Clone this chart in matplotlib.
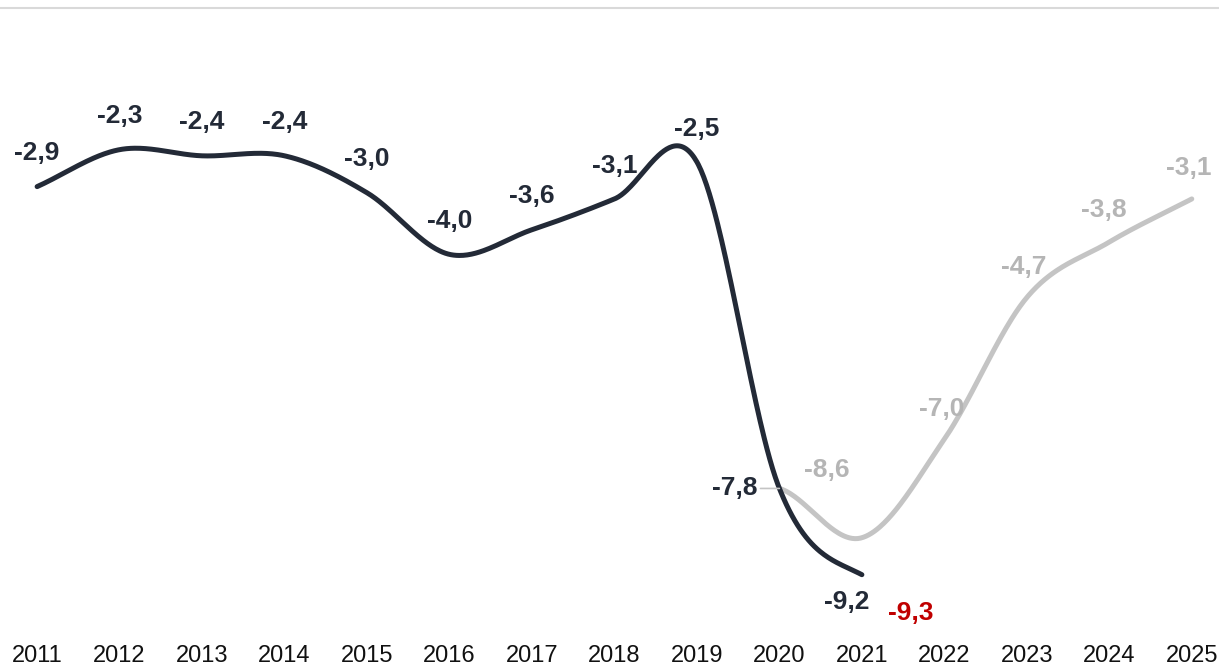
import numpy as np
import matplotlib
matplotlib.use("Agg")
import matplotlib.pyplot as plt

plt.rcParams['font.family'] = ['Liberation Sans', 'DejaVu Sans']

years = list(range(2011, 2026))
actual_years = [2011, 2012, 2013, 2014, 2015, 2016, 2017, 2018, 2019, 2020, 2021]
actual_vals = [-2.9, -2.3, -2.4, -2.4, -3.0, -4.0, -3.6, -3.1, -2.5, -7.8, -9.2]
fc_years = [2020, 2021, 2022, 2023, 2024, 2025]
fc_vals = [-7.8, -8.6, -7.0, -4.7, -3.8, -3.1]
red_year = 2021
red_val = -9.3

DARK = '#232a37'
GREY_LINE = '#c4c4c4'
GREY_TXT = '#b5b5b5'
RED = '#c00000'


def catmull(xs, ys, k0=1.0, k1=1.0, n=60):
    xs = np.asarray(xs, float); ys = np.asarray(ys, float)
    m = np.zeros_like(ys)
    m[1:-1] = (ys[2:] - ys[:-2]) / (xs[2:] - xs[:-2])
    m[0] = k0 * (ys[1] - ys[0]) / (xs[1] - xs[0])
    m[-1] = k1 * (ys[-1] - ys[-2]) / (xs[-1] - xs[-2])
    ox, oy = [], []
    for i in range(len(xs) - 1):
        h = xs[i + 1] - xs[i]
        t = np.linspace(0, 1, n, endpoint=(i == len(xs) - 2))
        h00 = 2 * t**3 - 3 * t**2 + 1
        h10 = t**3 - 2 * t**2 + t
        h01 = -2 * t**3 + 3 * t**2
        h11 = t**3 - t**2
        ox.append(xs[i] + t * h)
        oy.append(h00 * ys[i] + h10 * h * m[i] + h01 * ys[i + 1] + h11 * h * m[i + 1])
    return np.concatenate(ox), np.concatenate(oy)


fig = plt.figure(figsize=(12.19, 6.65), dpi=100)
ax = fig.add_axes([0, 0.0617, 1, 0.9263])
ax.set_xlim(2010.55, 2025.33)
ax.set_ylim(-10, 0)

gx, gy = catmull(fc_years, fc_vals, k0=0.5, k1=1.0)
ax.plot(gx, gy, color=GREY_LINE, lw=3.6, solid_capstyle='round', zorder=2)
dx, dy = catmull(actual_years, actual_vals, k0=1.0, k1=0.5)
ax.plot(dx, dy, color=DARK, lw=3.6, solid_capstyle='round', zorder=3)

def lab(x, y, txt, off, color, zorder=4):
    ax.annotate(txt, (x, y), xytext=off, textcoords='offset points',
                ha='center', va='center', fontsize=19, fontweight='bold',
                color=color, zorder=zorder)

fmt = lambda v: f"{v:.1f}".replace('.', ',')

for x, v in zip(actual_years, actual_vals):
    if x == 2020:
        ax.annotate(fmt(v), (x, v), xytext=(-32, 0), textcoords='offset points',
                    ha='center', va='center', fontsize=19, fontweight='bold', color=DARK,
                    arrowprops=dict(arrowstyle='-', color=GREY_LINE, lw=1.2,
                                    shrinkA=17, shrinkB=0))
    elif x == 2021:
        lab(x, v, fmt(v), (-11, -20), DARK)
    else:
        lab(x, v, fmt(v), (0, 24), DARK)

for x, v in zip(fc_years, fc_vals):
    if x == 2020:
        continue
    if x == 2021:
        lab(x, v, fmt(v), (-25, 49), GREY_TXT)
    elif x == 2024:
        lab(x, v, fmt(v), (-4, 23), GREY_TXT)
    else:
        lab(x, v, fmt(v), (-2, 22), GREY_TXT)

lab(red_year, red_val, fmt(red_val), (35, -23), RED)

for s in ['left', 'right', 'bottom']:
    ax.spines[s].set_visible(False)
ax.spines['top'].set_color('#d9d9d9')
ax.spines['top'].set_linewidth(1.5)
ax.set_yticks([])
ax.set_xticks(years)
ax.set_xticklabels([str(y) for y in years], fontsize=17, color='#111111')
ax.tick_params(axis='x', length=0, pad=15)
ax.patch.set_alpha(0)

fig.savefig('out.png', dpi=100)
